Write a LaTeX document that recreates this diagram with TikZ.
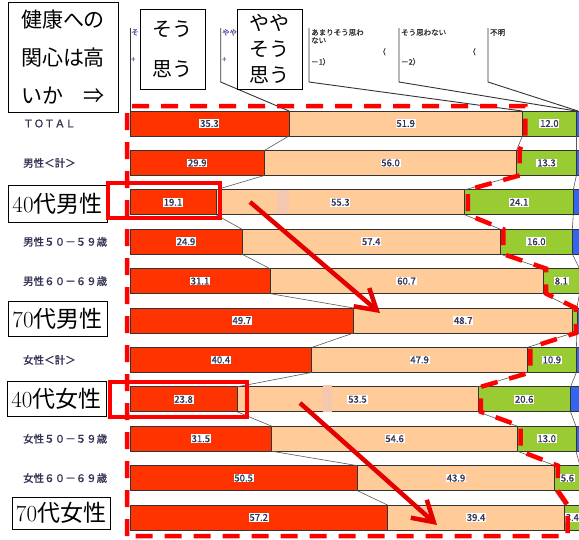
\documentclass[tikz,border=0pt]{standalone}
\usepackage{fontspec}
\newfontfamily\jp{Noto Sans CJK JP}
\newfontfamily\jpb[FakeBold=1.2]{Noto Sans CJK JP}
\usetikzlibrary{arrows.meta}
\definecolor{cred}{HTML}{FF3300}
\definecolor{cpeach}{HTML}{FFCC99}
\definecolor{cgreen}{HTML}{99CC33}
\definecolor{cblue}{HTML}{3366EE}
\definecolor{hred}{HTML}{FF0000}
\definecolor{ltxt}{HTML}{333355}
\definecolor{pale}{HTML}{F4C8B0}
\definecolor{remn}{HTML}{6655AA}
\tikzset{
  barline/.style={draw=black!80,line width=0.7pt},
  serline/.style={draw=black!65,line width=0.6pt},
  leader/.style={draw=black!80,line width=0.9pt},
  vlab/.style={fill=white,inner sep=0.8pt,text=ltxt,font=\jpb\fontsize{9.5}{9.5}\selectfont},
  rowlab/.style={anchor=west,inner sep=0pt,text=ltxt,font=\jpb\fontsize{10.5}{11}\selectfont},
  legtxt/.style={anchor=north west,inner sep=0pt,text=black!80,font=\jpb\fontsize{7.5}{8}\selectfont},
  bigbox/.style={draw=black,line width=0.9pt,fill=white,inner sep=1pt,font=\fontsize{23}{23}\selectfont},
  headbox/.style={draw=black,line width=0.9pt,fill=white,align=left,inner sep=0pt},
  hilite/.style={draw=hred,line width=4pt},
  reddash/.style={draw=hred,line width=4.5pt,dash pattern=on 17pt off 12pt},
  bigarrow/.style={draw=hred!90!black,line width=4.5pt,-{Straight Barb[length=20pt,width=24pt]}},
}
\def\RA{{35.3,29.9,19.1,24.9,31.1,49.7,40.4,23.8,31.5,50.5,57.2}}
\def\RB{{51.9,56.0,55.3,57.4,60.7,48.7,47.9,53.5,54.6,43.9,39.4}}
\def\RC{{12.0,13.3,24.1,16.0,8.1,0.9,10.9,20.6,13.0,5.6,3.4}}
\begin{document}
\begin{tikzpicture}[x=1pt,y=-1pt]
\useasboundingbox (0,0) rectangle (579,539);
\clip (0,0) rectangle (579,539);
\fill[white] (0,0) rectangle (579,539);

% bars
\foreach \i/\a/\b/\c/\lab in {
0/35.3/51.9/12.0/ＴＯＴＡＬ,
1/29.9/56.0/13.3/男性＜計＞,
2/19.1/55.3/24.1/{},
3/24.9/57.4/16.0/男性５０－５９歳,
4/31.1/60.7/8.1/男性６０－６９歳,
5/49.7/48.7/0.9/{},
6/40.4/47.9/10.9/女性＜計＞,
7/23.8/53.5/20.6/{},
8/31.5/54.6/13.0/女性５０－５９歳,
9/50.5/43.9/5.6/女性６０－６９歳,
10/57.2/39.4/3.4/{}}{
  \pgfmathsetmacro\t{111+39.4*\i}
  \pgfmathsetmacro\bb{\t+25}
  \pgfmathsetmacro\xa{130+4.5*\a}
  \pgfmathsetmacro\xb{\xa+4.5*\b}
  \pgfmathsetmacro\xc{\xb+4.5*\c}
  \draw[barline,fill=cblue] (\xc,\t) rectangle (585,\bb);
  \draw[barline,fill=cgreen] (\xb,\t) rectangle (\xc,\bb);
  \draw[barline,fill=cpeach] (\xa,\t) rectangle (\xb,\bb);
  \draw[barline,fill=cred] (130,\t) rectangle (\xa,\bb);
  \node[vlab] (va\i) at ({(130+\xa)/2},{\t+12.5}) {\a};
  \node[vlab] (vb\i) at ({(\xa+\xb)/2},{\t+12.5}) {\b};
  \ifnum\i=5\else
    \node[vlab] (vc\i) at ({(\xb+\xc)/2},{\t+12.5}) {\c};
  \fi
  \node[rowlab] (rl\i) at (23,{\t+12.5}) {\lab};
}

% series lines
\foreach \i in {0,...,9}{
  \pgfmathtruncatemacro\j{\i+1}
  \pgfmathsetmacro\bb{111+39.4*\i+25}
  \pgfmathsetmacro\tt{111+39.4*\j}
  \pgfmathsetmacro\pa{130+4.5*\RA[\i]}
  \pgfmathsetmacro\pb{\pa+4.5*\RB[\i]}
  \pgfmathsetmacro\pc{\pb+4.5*\RC[\i]}
  \pgfmathsetmacro\qa{130+4.5*\RA[\j]}
  \pgfmathsetmacro\qb{\qa+4.5*\RB[\j]}
  \pgfmathsetmacro\qc{\qb+4.5*\RC[\j]}
  \draw[serline] (\pa,\bb) -- (\qa,\tt);
  \draw[serline] (\pb,\bb) -- (\qb,\tt);
  \draw[serline] (\pc,\bb) -- (\qc,\tt);
}

% pale patches
\fill[pale] (277,190) rectangle (289,213);
\fill[pale] (323,385) rectangle (332,412);

% legend remnants and leader lines
\node[legtxt,text=remn] (r1) at (131,29) {そ};
\node[legtxt,text=remn] (r2) at (131,57) {+};
\node[legtxt,text=remn] (r3) at (222,29) {やや};
\node[legtxt,text=remn] (r4) at (222,57) {+};
\draw[leader] (130,28) -- (130,111);
\draw[leader] (220.7,28) -- (220.7,82) -- (289,111);
\draw[leader] (309,28) -- (309,82) -- (522,111);
\draw[leader] (399,28) -- (399,82) -- (576,111);
\draw[leader] (488,28) -- (488,82) -- (578,111);
\node[legtxt] (l1) at (311,29) {あまりそう思わ};
\node[legtxt] (l2) at (311,37) {ない};
\node[legtxt] (l3) at (378,48) {（};
\node[legtxt] (l4) at (311,58) {－1）};
\node[legtxt] (l5) at (401,29) {そう思わない};
\node[legtxt] (l6) at (468,48) {（};
\node[legtxt] (l7) at (401,58) {－2）};
\node[legtxt] (l8) at (490,29) {不明};

% header boxes
\node[headbox,minimum width=110pt,minimum height=110pt,font=\jp\fontsize{21}{38}\selectfont] (hq) at (63,57) {健康への\\関心は高\\いか　⇒};
\node[headbox,minimum width=65pt,minimum height=80pt,font=\jp\fontsize{20}{40}\selectfont] (h1) at (172.5,49) {そう\\思う};
\node[headbox,minimum width=65pt,minimum height=80pt,font=\jp\fontsize{20}{26}\selectfont] (h2) at (269.5,49) {やや\\そう\\思う};

% big labels
\node[bigbox,minimum width=99pt,minimum height=37pt] (m40) at (57.5,203.5) {40{\jp 代男性}};
\node[bigbox,minimum width=99pt,minimum height=35pt] (m70) at (57.5,318.5) {70{\jp 代男性}};
\node[bigbox,minimum width=99pt,minimum height=35pt] (f40) at (56.5,398.5) {40{\jp 代女性}};
\node[bigbox,minimum width=98pt,minimum height=32pt] (f70) at (61,513) {70{\jp 代女性}};

% red dashed region
\draw[reddash] (127,536) -- (127,106) -- (525.4,106) -- (525.4,136)
 -- (519.6,150.4) -- (519.6,175.4) -- (467.8,189.8) -- (467.8,214.8)
 -- (503.4,229.2) -- (503.4,254.2) -- (546.1,268.6) -- (546.1,293.6)
 -- (575.8,308) -- (575.8,333) -- (530.4,347.4) -- (530.4,372.4)
 -- (480.9,386.8) -- (480.9,411.8) -- (520.5,426.2) -- (520.5,451.2)
 -- (557.8,465.6) -- (557.8,490.6) -- (567.7,505) -- (567.7,536) -- cycle;

% highlight rectangles
\draw[hilite] (108,183) rectangle (220,218);
\draw[hilite] (110,382) rectangle (247,417);

% arrows
\coordinate (a1s) at (250,202);
\coordinate (a1e) at (380,313);
\coordinate (a2s) at (300,403);
\coordinate (a2e) at (437,525);
\draw[bigarrow] (a1s) -- (a1e);
\draw[bigarrow] (a2s) -- (a2e);
\end{tikzpicture}
\end{document}
